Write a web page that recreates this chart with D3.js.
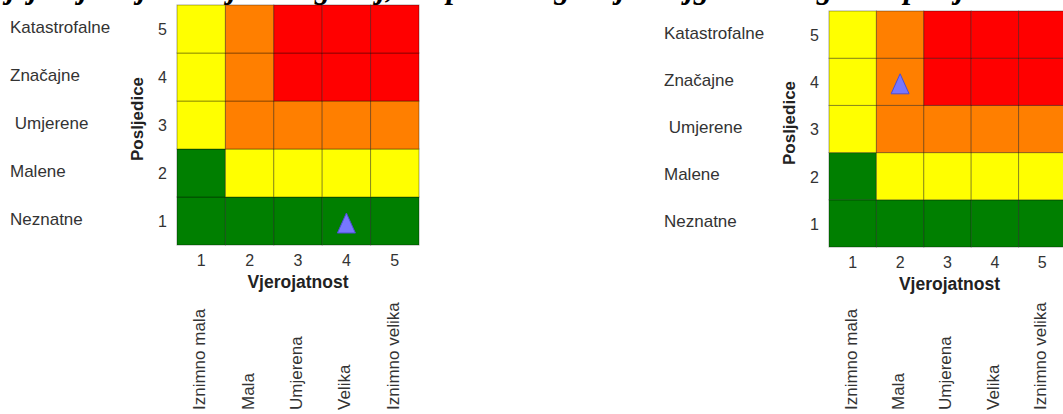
<!DOCTYPE html>
<html>
<head>
<meta charset="utf-8">
<script src="https://cdn.jsdelivr.net/npm/d3@7"></script>
<style>
  html, body { margin: 0; padding: 0; background: #fff; overflow: hidden; }
  svg { display: block; }
  text { font-family: "Liberation Sans", Arial, sans-serif; }
</style>
</head>
<body>
<svg id="chart" width="1063" height="414"></svg>
<script>
// ---- data ----
const titlePrefix = "Slika 3. Matrica rizika za ";
const titleText = "najvjerojatniji neželjeni događaj, te opasni događaj s najgorim mogućim posljedicama";
const probTicks = [1, 2, 3, 4, 5];
const consTicks = [1, 2, 3, 4, 5];
const probLabels = ["Iznimno mala", "Mala", "Umjerena", "Velika", "Iznimno velika"];
const consLabels = ["Neznatne", "Malene", " Umjerene", "Značajne", "Katastrofalne"];
const xTitle = "Vjerojatnost";
const yTitle = "Posljedice";
// risk level per consequence row (1..5), columns = probability 1..5
const riskRow1 = ["G", "G", "G", "G", "G"];
const riskRow2 = ["G", "Y", "Y", "Y", "Y"];
const riskRow3 = ["Y", "O", "O", "O", "O"];
const riskRow4 = ["Y", "O", "R", "R", "R"];
const riskRow5 = ["Y", "O", "R", "R", "R"];
const riskRows = [riskRow1, riskRow2, riskRow3, riskRow4, riskRow5];
const markerLeft = { prob: 4, cons: 1 };
const markerRight = { prob: 2, cons: 4 };

const levelColor = { G: "#007f00", Y: "#ffff00", O: "#ff7f00", R: "#ff0000" };

const svg = d3.select("#chart");

// title (cut off at top of picture, as in the reference)
svg.append("text")
  .attr("x", -26).attr("y", -2)
  .attr("text-anchor", "end")
  .style("font-family", "'Liberation Serif', serif")
  .style("font-weight", "bold").style("font-style", "italic")
  .style("font-size", "31px").attr("fill", "#000")
  .text(titlePrefix);
svg.append("text")
  .attr("x", -26).attr("y", -2)
  .style("font-family", "'Liberation Serif', serif")
  .style("font-weight", "bold").style("font-style", "italic")
  .style("font-size", "31px").attr("fill", "#000")
  .text(titleText);

function drawMatrix(cfg) {
  const g = svg.append("g");
  const x = d3.scaleBand().domain(probTicks).range(cfg.xRange);
  const y = d3.scaleBand().domain(consTicks.slice().reverse()).range(cfg.yRange);
  const cells = [];
  consTicks.forEach((c, ci) => probTicks.forEach((p, pi) => cells.push({ p, c, lvl: riskRows[ci][pi] })));

  g.selectAll("rect.cell").data(cells).join("rect")
    .attr("class", "cell")
    .attr("x", d => x(d.p)).attr("y", d => y(d.c))
    .attr("width", x.bandwidth()).attr("height", y.bandwidth())
    .attr("fill", d => levelColor[d.lvl])
    .attr("stroke", "rgba(0,0,0,0.35)").attr("stroke-width", 1);

  // y tick numbers
  const yAxis = d3.axisLeft(y).tickSize(0).tickPadding(0);
  const ya = g.append("g").attr("transform", `translate(${cfg.xRange[0] - 10},0)`).call(yAxis);
  ya.select(".domain").remove();
  ya.selectAll("text").style("font-size", "16px").attr("fill", "#333").attr("dy", "0.4em");

  // x tick numbers
  const xAxis = d3.axisBottom(x).tickSize(0).tickPadding(0);
  const xa = g.append("g").attr("transform", `translate(0,${cfg.yRange[1] + 8})`).call(xAxis);
  xa.select(".domain").remove();
  xa.selectAll("text").style("font-size", "16px").attr("fill", "#333").attr("dy", "0.8em");

  // consequence category names
  g.selectAll("text.cons").data(consTicks).join("text")
    .attr("class", "cons")
    .attr("x", cfg.labelX)
    .attr("y", d => y(d) + y.bandwidth() / 2 - 2)
    .attr("dy", "0.35em")
    .style("font-size", "17px").style("white-space", "pre").attr("fill", "#333")
    .text((d, i) => consLabels[i]);

  // probability category names (rotated)
  g.selectAll("text.prob").data(probTicks).join("text")
    .attr("class", "prob")
    .attr("transform", d => `translate(${x(d) + x.bandwidth() / 2 - 2},${cfg.probBottom}) rotate(-90)`)
    .attr("dy", "0.35em")
    .style("font-size", "17px").attr("fill", "#333")
    .text((d, i) => probLabels[i]);

  // axis titles
  g.append("text")
    .attr("x", (cfg.xRange[0] + cfg.xRange[1]) / 2 + cfg.xTitleShift)
    .attr("y", cfg.yRange[1] + 43)
    .attr("text-anchor", "middle")
    .style("font-size", "17.5px").style("font-weight", "bold").attr("fill", "#222")
    .text(xTitle);
  g.append("text")
    .attr("transform", `translate(${cfg.xRange[0] - 34},${(cfg.yRange[0] + cfg.yRange[1]) / 2 - 6}) rotate(-90)`)
    .attr("text-anchor", "middle")
    .style("font-size", "17px").style("font-weight", "bold").attr("fill", "#222")
    .text(yTitle);

  // marker triangle
  const m = cfg.marker;
  const cx = x(m.prob) + x.bandwidth() / 2;
  const cy = y(m.cons) + y.bandwidth() / 2;
  const tri = d3.path();
  tri.moveTo(cx, cy - 8); tri.lineTo(cx + 9, cy + 12); tri.lineTo(cx - 9, cy + 12); tri.closePath();
  g.append("path").attr("d", tri.toString())
    .attr("fill", "#7777ff").attr("stroke", "#4d4dd6").attr("stroke-width", 1);
}

drawMatrix({ xRange: [177, 419], yRange: [5, 245], labelX: 10, probBottom: 410, xTitleShift: 0, marker: markerLeft });
drawMatrix({ xRange: [829, 1066], yRange: [11, 247], labelX: 664, probBottom: 410, xTitleShift: 2, marker: markerRight });
</script>
</body>
</html>
